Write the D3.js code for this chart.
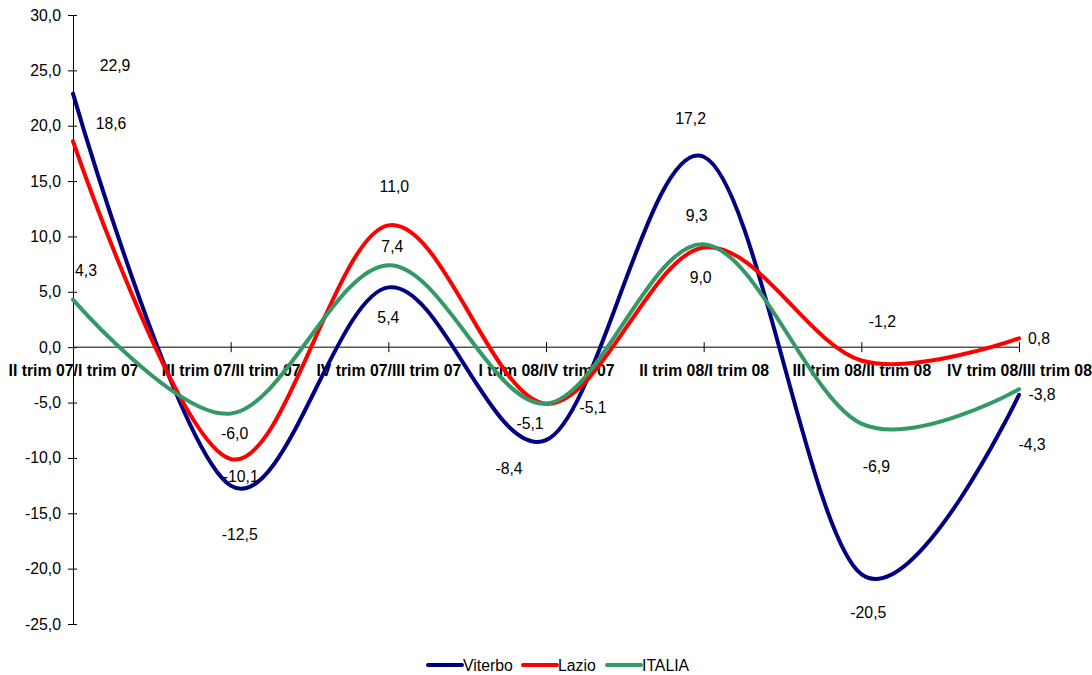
<!DOCTYPE html>
<html>
<head>
<meta charset="utf-8">
<script src="https://cdn.jsdelivr.net/npm/d3@7"></script>
<style>
  html, body { margin: 0; padding: 0; background: #fff; }
  svg { display: block; font-family: "Liberation Sans", Arial, sans-serif; }
</style>
</head>
<body>
<svg id="chart" width="1092" height="675"></svg>
<script>
// ---- data ----
const categories = [
  "II trim 07/I trim 07",
  "III trim 07/II trim 07",
  "IV trim 07/III trim 07",
  "I trim 08/IV trim 07",
  "II trim 08/I trim 08",
  "III trim 08/II trim 08",
  "IV trim 08/III trim 08"
];
const seriesNames = ["Viterbo", "Lazio", "ITALIA"];
const viterbo = [22.9, -12.5, 5.4, -8.4, 17.2, -20.5, -4.3];
const lazio   = [18.6, -10.1, 11.0, -5.1, 9.0, -1.2, 0.8];
const italia  = [4.3, -6.0, 7.4, -5.1, 9.3, -6.9, -3.8];
const yTicks = [-25, -20, -15, -10, -5, 0, 5, 10, 15, 20, 25, 30];

// ---- styling ----
const colors = ["#000080", "#FF0000", "#339966"];
const FS = 15.8;
// label offsets (px) relative to each point, mimicking the reference placement
const labelOffsets = [
  [[42,-28],[9,49],[0,30],[-37,28],[-13,-38],[7,38],[13,50]],
  [[38,-18],[10,17],[6,-39],[-16,20],[-3,30],[21,-39],[20,0]],
  [[13,-29],[4,20],[4,-19],[47,4],[-7,-29],[15,43],[23,5]]
];

const series = [viterbo, lazio, italia].map((vals, i) => ({
  name: seriesNames[i], values: vals, color: colors[i], offsets: labelOffsets[i]
}));

const svg = d3.select("#chart");
const fmt = v => d3.format(".1f")(v).replace(".", ",").replace("−", "-");

const x = d3.scalePoint().domain(categories).range([73, 1019]);
const y = d3.scaleLinear().domain([-25, 30]).range([624, 15]);

// Y axis
const yAxis = d3.axisLeft(y).tickValues(yTicks).tickFormat(fmt).tickSizeInner(4).tickSizeOuter(0).tickPadding(8);
const gy = svg.append("g").attr("transform", "translate(73,0)").call(yAxis);
gy.select(".domain").attr("stroke", "#000");
gy.selectAll(".tick line").attr("x1", -5).attr("x2", 4).attr("stroke", "#000");
gy.selectAll(".tick text").attr("font-size", FS).attr("fill", "#000")
  .attr("font-family", "Liberation Sans, Arial, sans-serif").attr("x", -12);

// X axis at y=0
const xAxis = d3.axisBottom(x).tickSize(0).tickPadding(0);
const gx = svg.append("g").attr("transform", `translate(0,${y(0)})`).call(xAxis);
gx.select(".domain").attr("stroke", "#000").attr("d", `M73,0H1019`);
gx.selectAll(".tick line").attr("y1", -5).attr("y2", 5).attr("stroke", "#000");
gx.selectAll(".tick text")
  .attr("font-size", FS).attr("font-weight", "bold").attr("fill", "#000")
  .attr("font-family", "Liberation Sans, Arial, sans-serif")
  .attr("y", 24).attr("dy", "0.32em");

// Lines
const line = d3.line()
  .x((d, i) => x(categories[i]))
  .y(d => y(d))
  .curve(d3.curveCatmullRom.alpha(0));

svg.append("g").selectAll("path").data(series).join("path")
  .attr("d", d => line(d.values))
  .attr("fill", "none")
  .attr("stroke", d => d.color)
  .attr("stroke-width", 4)
  .attr("stroke-linejoin", "round")
  .attr("stroke-linecap", "round");

// Data labels
const lg = svg.append("g");
series.forEach(s => {
  s.values.forEach((v, i) => {
    lg.append("text")
      .attr("x", x(categories[i]) + s.offsets[i][0])
      .attr("y", y(v) + s.offsets[i][1])
      .attr("text-anchor", "middle")
      .attr("dy", "0.35em")
      .attr("font-size", FS)
      .attr("fill", "#000")
      .text(fmt(v));
  });
});

// Legend
const legendX = [428, 523, 607];
const leg = svg.append("g").attr("transform", "translate(0,665)");
series.forEach((s, i) => {
  const g = leg.append("g").attr("transform", `translate(${legendX[i]},0)`);
  g.append("line").attr("x1", 0).attr("x2", 34).attr("y1", 0).attr("y2", 0)
    .attr("stroke", s.color).attr("stroke-width", 4).attr("stroke-linecap", "round");
  g.append("text").attr("x", 35).attr("dy", "0.35em").attr("font-size", FS)
    .attr("fill", "#000").text(s.name);
});
</script>
</body>
</html>
